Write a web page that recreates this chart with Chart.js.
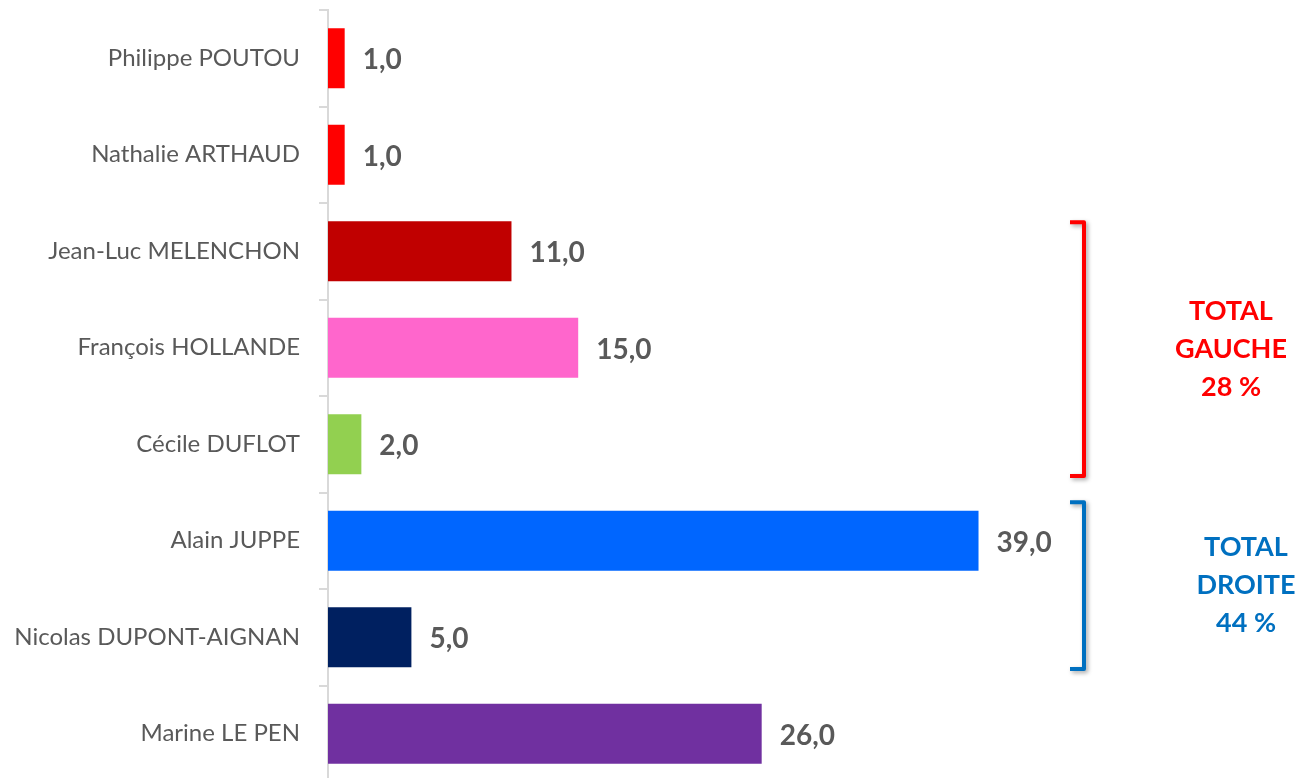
<!DOCTYPE html>
<html>
<head>
<meta charset="utf-8">
<script src="https://cdn.jsdelivr.net/npm/chart.js@4/dist/chart.umd.min.js"></script>
<style>
  html, body { margin: 0; padding: 0; background: #fff; overflow: hidden; }
</style>
</head>
<body>
<canvas id="voteChart" width="1299" height="792"></canvas>
<script>
// Intentions de vote - premier tour
const candidats = ['Philippe POUTOU', 'Nathalie ARTHAUD', 'Jean-Luc MELENCHON', 'François HOLLANDE',
                   'Cécile DUFLOT', 'Alain JUPPE', 'Nicolas DUPONT-AIGNAN', 'Marine LE PEN'];
const scores = [1, 1, 11, 15, 2, 39, 5, 26];
const couleurs = ['#FF0000', '#FF0000', '#C00000', '#FF66CC', '#92D050', '#0066FF', '#002060', '#7030A0'];

// Totaux par bloc : premier et dernier candidat couverts par l'accolade
const blocs = [
    { lignes: ['TOTAL', 'GAUCHE', '28 %'], debut: 2, fin: 4, couleur: '#FF0000' },
    { lignes: ['TOTAL', 'DROITE', '44 %'], debut: 5, fin: 6, couleur: '#0070C0' }
];

const police = 'Lato, Calibri, "Open Sans", sans-serif';

const etiquettes = {
    id: 'etiquettes',
    afterDatasetsDraw(chart) {
        const ctx = chart.ctx;
        const meta = chart.getDatasetMeta(0);
        ctx.save();
        ctx.font = 'bold 28px ' + police;
        ctx.fillStyle = '#595959';
        ctx.textBaseline = 'middle';
        ctx.textAlign = 'left';
        meta.data.forEach((bar, i) => {
            ctx.fillText(scores[i].toFixed(1).replace('.', ','), bar.x + 18, bar.y + 2);
        });
        ctx.restore();

        // accolades et totaux
        const y = chart.scales.y;
        const pas = y.getPixelForValue(1) - y.getPixelForValue(0);
        blocs.forEach((b, k) => {
            const haut = y.getPixelForValue(b.debut) - pas * (k === 0 ? 0.3 : 0.4);
            const bas = y.getPixelForValue(b.fin) + pas * 0.33;
            const xv = 1084;
            ctx.save();
            ctx.strokeStyle = b.couleur;
            ctx.lineWidth = 4;
            ctx.lineJoin = 'round';
            ctx.shadowColor = 'rgba(0,0,0,0.35)';
            ctx.shadowBlur = 4;
            ctx.shadowOffsetX = 2;
            ctx.shadowOffsetY = 2;
            ctx.beginPath();
            ctx.moveTo(1070, haut);
            ctx.lineTo(xv, haut);
            ctx.lineTo(xv, bas);
            ctx.lineTo(1070, bas);
            ctx.stroke();
            ctx.restore();

            ctx.save();
            ctx.font = 'bold 27px ' + police;
            ctx.fillStyle = b.couleur;
            ctx.textAlign = 'center';
            ctx.textBaseline = 'middle';
            const milieu = (haut + bas) / 2;
            const cx = k === 0 ? 1231 : 1246;
            b.lignes.forEach((t, j) => {
                ctx.fillText(t, cx, milieu + (j - 1) * 38);
            });
            ctx.restore();
        });
    }
};

const ctx = document.getElementById('voteChart').getContext('2d');
const voteChart = new Chart(ctx, {
    type: 'bar',
    data: {
        labels: candidats,
        datasets: [{
            data: scores,
            backgroundColor: couleurs,
            borderWidth: 0,
            barPercentage: 0.62,
            categoryPercentage: 1
        }]
    },
    options: {
        indexAxis: 'y',
        responsive: false,
        animation: false,
        layout: { padding: { top: 10, bottom: 10, right: 137, left: 0 } },
        plugins: {
            legend: { display: false },
            tooltip: { enabled: false }
        },
        scales: {
            x: {
                display: false,
                min: 0,
                max: 50
            },
            y: {
                afterFit(scale) {
                    scale.width = 328;
                    scale.paddingTop = 0;
                    scale.paddingBottom = 0;
                },
                grid: {
                    drawOnChartArea: false,
                    drawTicks: true,
                    tickLength: 9,
                    color: '#D9D9D9',
                    lineWidth: 2
                },
                border: { display: true, color: '#D9D9D9', width: 2 },
                ticks: {
                    color: '#595959',
                    padding: 19,
                    font: { family: police, size: 24 }
                }
            }
        }
    },
    plugins: [etiquettes]
});
</script>
</body>
</html>
